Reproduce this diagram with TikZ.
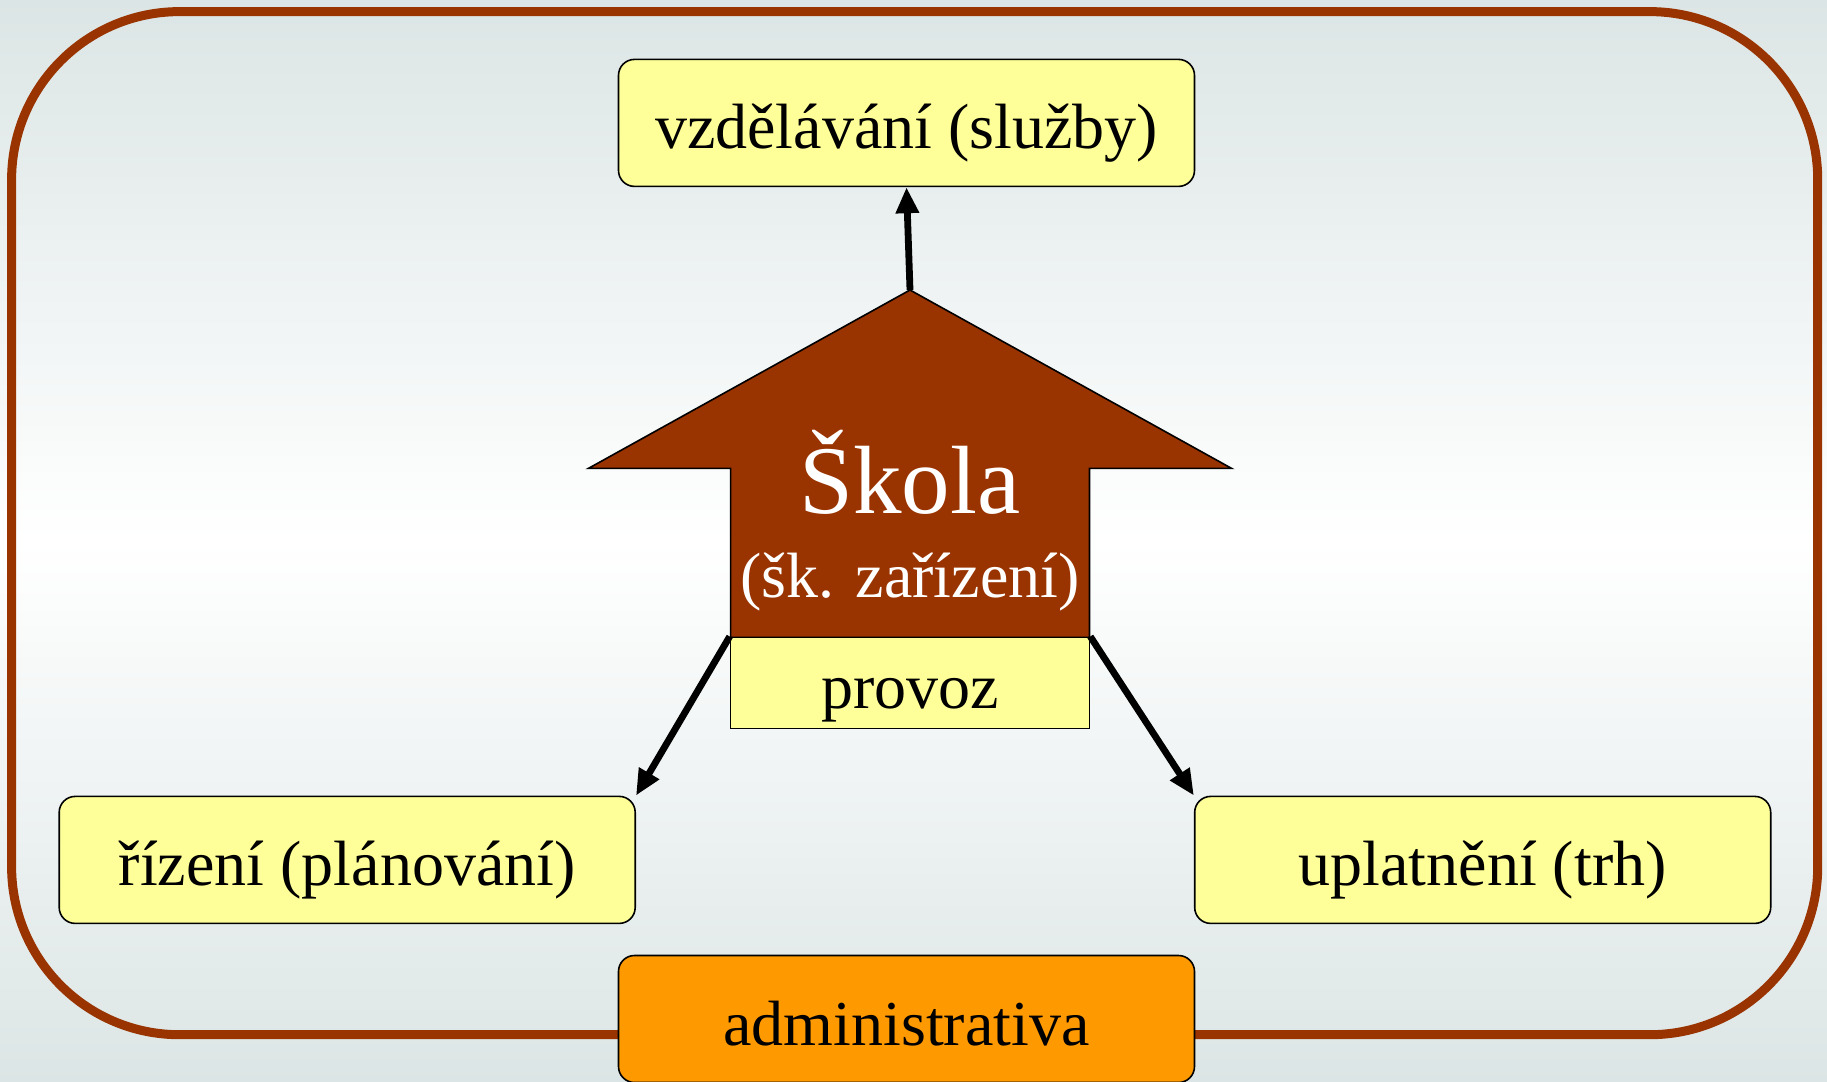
\documentclass[tikz,border=0pt]{standalone}
\usepackage{fontspec}
\setmainfont{Liberation Serif}
\usetikzlibrary{arrows.meta}

\definecolor{skolabrown}{HTML}{993300}
\definecolor{boxyellow}{HTML}{FFFF99}
\definecolor{adminorange}{HTML}{FF9900}
\definecolor{bgedge}{HTML}{DCE5E5}

\begin{document}
\begin{tikzpicture}[x=0.5pt, y=-0.5pt,
    box/.style={draw=black, line width=0.8pt, fill=boxyellow, rounded corners=8pt,
      minimum width=288pt, minimum height=63.5pt, inner sep=0pt,
      text height=28pt, text depth=2pt, font=\fontsize{32}{38}\selectfont},
    conn/.style={line width=3.4pt, -{Triangle[length=13pt,width=11pt]}}]
    \useasboundingbox (0,0) rectangle (1827,1082);
    \shade[top color=bgedge, bottom color=bgedge, middle color=white] (0,0) rectangle (1827,1082);

    \draw[skolabrown, line width=4.5pt, rounded corners=84pt] (11.6,11.6) rectangle (1817.7,1034.7);

    % the school arrow
    \draw[fill=skolabrown, line width=0.8pt]
    (910,290) -- (1231.6,468.4) -- (1089.5,468.4) -- (1089.5,637.4) --
    (730.6,637.4) -- (730.6,468.4) -- (588.4,468.4) -- cycle;
    \coordinate (tip) at (910,290);
    \node[white, anchor=base, font=\fontsize{48.5}{52}\selectfont] (skola) at (910,513) {Škola};
    \node[white, anchor=base, font=\fontsize{32}{38}\selectfont] (zarizeni) at (910,597) {(šk. zařízení)};
    \node[box, rounded corners=0pt, minimum width=179.5pt, minimum height=45.5pt] (provoz) at (910,682.8) {provoz};

    \node[box] (vzdel) at (906.5,122.9) {vzdělávání (služby)};
    \node[box] (rizeni) at (347.2,859.9) {řízení (plánování)};
    \node[box] (uplatneni) at (1482.7,859.9) {uplatnění (trh)};
    \node[box, fill=adminorange] (admin) at (906.5,1019) {administrativa};

    \draw[conn] (tip) -- (vzdel.south);
    \draw[conn] (provoz.north west) -- (rizeni.north east);
    \draw[conn] (provoz.north east) -- (uplatneni.north west);
\end{tikzpicture}
\end{document}
